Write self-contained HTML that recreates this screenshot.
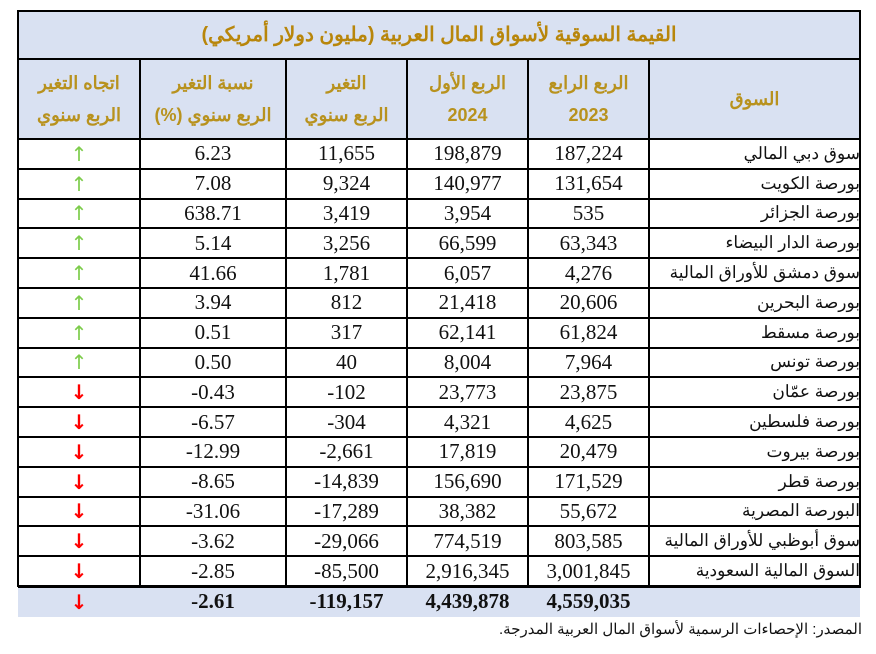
<!DOCTYPE html>
<html><head><meta charset="utf-8"><style>
body{margin:0;width:876px;height:654px;background:#fff;position:relative;font-family:"Liberation Serif","Noto Sans CJK SC",serif;overflow:hidden}
.a{position:absolute;box-sizing:border-box}
.bg{background:#d9e1f2}
.hl{position:absolute;background:#000}
.c{position:absolute;display:flex;align-items:center;justify-content:center;font-size:21px;color:#111}
.n{direction:ltr}
.r{justify-content:flex-start;padding-right:3px;font-family:"Liberation Sans","Noto Sans CJK SC",sans-serif;font-size:17px;direction:rtl}
.h{font-family:"Liberation Sans","Noto Sans CJK SC",sans-serif;color:#b8921e;font-size:18px;font-weight:bold;text-align:center;line-height:32px;flex-direction:column;direction:rtl}
.up{color:#7ccc4a;font-family:"DejaVu Sans",sans-serif;font-size:20px}
.dn{color:#f00;font-family:"DejaVu Sans",sans-serif;font-size:20px;font-weight:bold}
</style></head><body>
<div class="a bg" style="left:18px;top:11px;width:842px;height:128px"></div>
<div class="a bg" style="left:18px;top:586px;width:842px;height:31px"></div>
<div class="c h" style="left:18px;top:11px;width:842px;height:48px;font-size:20px;color:#b8860b">القيمة السوقية لأسواق المال العربية (مليون دولار أمريكي)</div>
<div id="g"></div>
<div class="a" dir="rtl" style="left:0;top:620px;width:862px;text-align:right;font-family:'Liberation Sans','Noto Sans CJK SC',sans-serif;font-size:15px;color:#111">المصدر: الإحصاءات الرسمية لأسواق المال العربية المدرجة.</div>
<script>
var X=[18,140,286,407,528,649,860];
var rows=[
["سوق دبي المالي","187,224","198,879","11,655","6.23",1],
["بورصة الكويت","131,654","140,977","9,324","7.08",1],
["بورصة الجزائر","535","3,954","3,419","638.71",1],
["بورصة الدار البيضاء","63,343","66,599","3,256","5.14",1],
["سوق دمشق للأوراق المالية","4,276","6,057","1,781","41.66",1],
["بورصة البحرين","20,606","21,418","812","3.94",1],
["بورصة مسقط","61,824","62,141","317","0.51",1],
["بورصة تونس","7,964","8,004","40","0.50",1],
["بورصة عمّان","23,875","23,773","-102","-0.43",0],
["بورصة فلسطين","4,625","4,321","-304","-6.57",0],
["بورصة بيروت","20,479","17,819","-2,661","-12.99",0],
["بورصة قطر","171,529","156,690","-14,839","-8.65",0],
["البورصة المصرية","55,672","38,382","-17,289","-31.06",0],
["سوق أبوظبي للأوراق المالية","803,585","774,519","-29,066","-3.62",0],
["السوق المالية السعودية","3,001,845","2,916,345","-85,500","-2.85",0]];
var h='';
function cell(x1,x2,y1,y2,t,cls){h+='<div class="c '+(cls||'n')+'" style="left:'+x1+'px;top:'+y1+'px;width:'+(x2-x1)+'px;height:'+(y2-y1)+'px">'+t+'</div>';}
function N(s){return '<span dir="ltr">'+s+'</span>';}
var hd=["اتجاه التغير<br>الربع سنوي","نسبة التغير<br>الربع سنوي (%)","التغير<br>الربع سنوي","الربع الأول<br>2024","الربع الرابع<br>2023","السوق"];
for(var i=0;i<6;i++)cell(X[i],X[i+1],59,139,hd[i],'h');
var rh=29.8;
for(var r=0;r<15;r++){var y1=139+r*rh,y2=y1+rh,d=rows[r];
cell(X[0],X[1],y1,y2,d[5]?'↑':'↓',d[5]?'up':'dn');
cell(X[1],X[2],y1,y2,N(d[4]));cell(X[2],X[3],y1,y2,N(d[3]));cell(X[3],X[4],y1,y2,N(d[2]));cell(X[4],X[5],y1,y2,N(d[1]));
cell(X[5],X[6],y1,y2,d[0],'r');}
var t=["↓","-2.61","-119,157","4,439,878","4,559,035"];
for(var i=0;i<5;i++)cell(X[i],X[i+1],586,617,i?'<b dir="ltr">'+t[i]+'</b>':t[i],i?'n':'dn');
function L(x,y,w,hh){h+='<div class="hl" style="left:'+x+'px;top:'+y+'px;width:'+w+'px;height:'+hh+'px"></div>';}
L(18,10,843,2);L(18,58,843,2);L(18,138,843,2);L(18,585,843,3);
for(var r=1;r<15;r++)L(18,Math.round(139+r*rh)-1,843,2);
L(17,10,2,577);L(859,10,2,577);
for(var i=1;i<6;i++)L(X[i]-1,58,2,529);
document.getElementById('g').innerHTML=h;
</script>
</body></html>
